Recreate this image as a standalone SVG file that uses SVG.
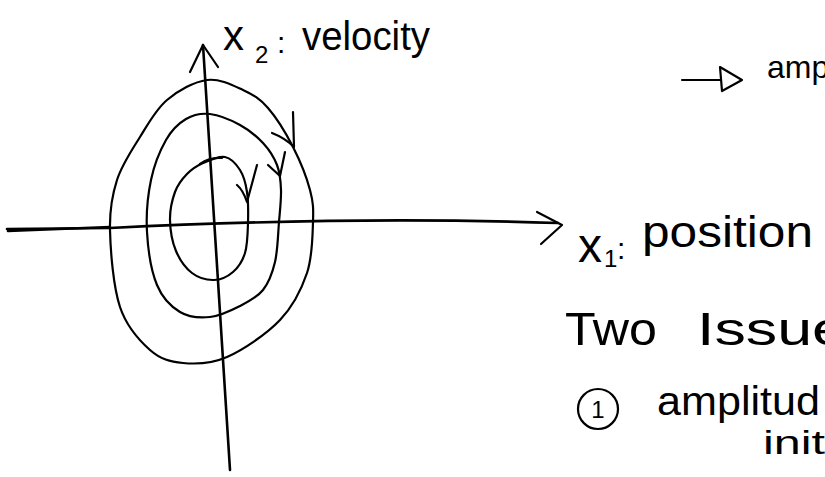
<svg xmlns="http://www.w3.org/2000/svg" width="825" height="477" viewBox="0 0 825 477">
<style>
.ink{fill:none;stroke:#000;stroke-width:2.2;stroke-linecap:round;stroke-linejoin:round}
.axis{fill:none;stroke:#000;stroke-width:2.6;stroke-linecap:round;stroke-linejoin:round}
.t{font-family:"Liberation Sans","DejaVu Sans",sans-serif;fill:#000}
</style>
<rect width="825" height="477" fill="#fff"/>
<g id="axes">
<path class="axis" d="M7,229 L110,228 Q350,216 558,223"/>
<path class="axis" d="M8,231 L110,227" stroke-width="3.5"/>
<path class="ink" d="M537,212 L562,225 L541,244"/>
<path class="axis" d="M203,45 L230,470"/>
<path class="ink" d="M190,72 L203,45 L218,67"/>
</g>
<g id="orbits">
<path id="outer" class="ink" d="M207,80 C219.7,78.3 232.8,85.3 243,90 C253.2,94.7 259.7,98.5 268,108 C276.3,117.5 286,133.3 293,147 C300,160.7 306.7,177.5 310,190 C313.3,202.5 313.5,208.2 313,222 C312.5,235.8 312.5,256.7 307,273 C301.5,289.3 293.3,306 280,320 C266.7,334 243.2,349.8 227,357 C210.8,364.2 195.8,364.2 183,363 C170.2,361.8 160.5,359.3 150,350 C139.5,340.7 126.7,327 120,307 C113.3,287 110.5,251.2 110,230 C109.5,208.8 112,195.5 117,180 C122,164.5 131.7,150.3 140,137 C148.3,123.7 155.8,109.5 167,100 C178.2,90.5 194.3,81.7 207,80 Z"/>
<path id="middle" class="ink" d="M210,114 C219,115 231.2,120.2 240,125 C248.8,129.8 256.8,136.3 263,143 C269.2,149.7 274,157.2 277,165 C280,172.8 280.7,180.5 281,190 C281.3,199.5 280,210 279,222 C278,234 277.7,250.7 275,262 C272.3,273.3 268.8,282.7 263,290 C257.2,297.3 248.8,301.5 240,306 C231.2,310.5 220,316 210,317 C200,318 188.8,317.3 180,312 C171.2,306.7 162.5,298.3 157,285 C151.5,271.7 148,249.5 147,232 C146,214.5 147.8,195.3 151,180 C154.2,164.7 160.2,150.2 166,140 C171.8,129.8 178.7,123.3 186,119 C193.3,114.7 201,113 210,114 Z"/>
<path id="inner" class="ink" d="M203,163 C209.3,160.2 218.8,155.8 225,157 C231.2,158.2 236.3,164.2 240,170 C243.7,175.8 245.7,183.2 247,192 C248.3,200.8 248.3,212.8 248,223 C247.7,233.2 247.5,244.8 245,253 C242.5,261.2 238.2,267.5 233,272 C227.8,276.5 220.8,279.8 214,280 C207.2,280.2 198.3,277.8 192,273 C185.7,268.2 179.7,259.8 176,251 C172.3,242.2 170.2,229.8 170,220 C169.8,210.2 172.2,199.7 175,192 C177.8,184.3 182.3,178.8 187,174 C191.7,169.2 196.7,165.8 203,163 Z"/>
<path class="ink" d="M200,164 Q210,157 222,158" stroke-width="4.5"/>
<path class="ink" d="M272,133 Q285,138 294,147 L293,112"/>
<path class="ink" d="M268,165 L280,176 L285,152"/>
<path class="ink" d="M237,185 Q243,190 247,202 L257,165"/>
</g>
<g id="label-x2">
<text class="t" x="223" y="50" font-size="42">x</text>
<text class="t" x="255" y="63" font-size="24">2</text>
<text class="t" x="277" y="53" font-size="30">:</text>
<text class="t" x="302" y="50" font-size="40" textLength="128" lengthAdjust="spacingAndGlyphs">velocity</text>
</g>
<g id="label-x1">
<text class="t" x="578" y="262" font-size="48">x</text>
<text class="t" x="604" y="267" font-size="24">1</text>
<text class="t" x="617" y="259" font-size="30">:</text>
<text class="t" x="642" y="247" font-size="44" textLength="171" lengthAdjust="spacingAndGlyphs">position</text>
</g>
<g id="note-amp">
<path class="ink" d="M682,80 L720,80"/>
<path class="ink" d="M720,67 L742,80 L722,91 Z"/>
<text class="t" x="767" y="78" font-size="32">amp</text>
</g>
<g id="note-issues">
<text class="t" x="565" y="345" font-size="46" textLength="92" lengthAdjust="spacingAndGlyphs">Two</text>
<text class="t" x="697" y="345" font-size="46" textLength="150" lengthAdjust="spacingAndGlyphs">Issue</text>
</g>
<g id="note-1">
<circle class="ink" cx="598" cy="409" r="20"/>
<text class="t" x="598" y="418" font-size="24" text-anchor="middle">1</text>
<text class="t" x="657" y="415" font-size="40" textLength="163" lengthAdjust="spacingAndGlyphs">amplitud</text>
<text class="t" x="763" y="454" font-size="34" textLength="62" lengthAdjust="spacingAndGlyphs">init</text>
</g>
</svg>
